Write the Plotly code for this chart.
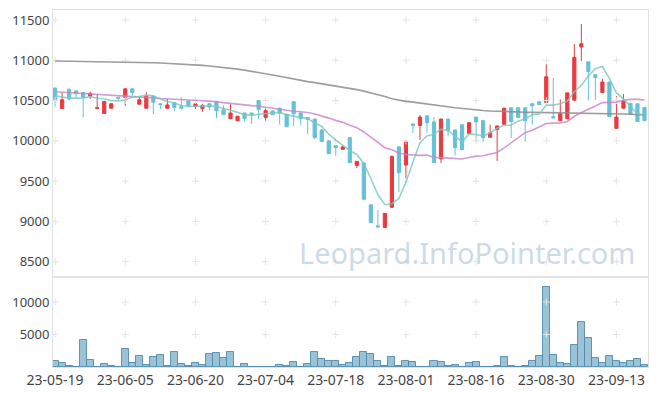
import plotly.graph_objects as go
from plotly.subplots import make_subplots

dates = ["23-05-19","23-05-22","23-05-23","23-05-24","23-05-25","23-05-26","23-05-30","23-05-31",
         "23-06-01","23-06-02","23-06-05","23-06-07","23-06-08","23-06-09","23-06-12","23-06-13",
         "23-06-14","23-06-15","23-06-16","23-06-19","23-06-20","23-06-21","23-06-22","23-06-23",
         "23-06-26","23-06-27","23-06-28","23-06-29","23-06-30","23-07-03","23-07-04","23-07-05",
         "23-07-06","23-07-07","23-07-10","23-07-11","23-07-12","23-07-13","23-07-14","23-07-17",
         "23-07-18","23-07-19","23-07-20","23-07-21","23-07-24","23-07-25","23-07-26","23-07-27",
         "23-07-28","23-07-31","23-08-01","23-08-02","23-08-03","23-08-04","23-08-07","23-08-08",
         "23-08-09","23-08-10","23-08-11","23-08-14","23-08-16","23-08-17","23-08-18","23-08-21",
         "23-08-22","23-08-23","23-08-24","23-08-25","23-08-28","23-08-29","23-08-30","23-08-31",
         "23-09-01","23-09-04","23-09-05","23-09-06","23-09-07","23-09-08","23-09-11","23-09-12",
         "23-09-13","23-09-14","23-09-15","23-09-18","23-09-19"]

opens = [10655,10400,10640,10620,10600,10555,10400,10340,10405,10540,
         10540,10645,10455,10405,10555,10460,10405,10475,10425,10495,
         10425,10400,10460,10490,10385,10275,10250,10345,10345,10500,
         10290,10370,10405,10330,10485,10345,10290,10270,10135,10000,
         9940,9895,10040,9695,9725,9205,8945,8925,9175,9925,
         9700,10210,10190,10310,10235,9775,10270,10135,10200,10090,
         10295,10250,10045,10140,10205,10410,10410,10410,10460,10485,
         10475,10300,10250,10275,10505,11165,10980,10820,10600,10730,
         10155,10405,10465,10460,10415]
highs = [10660,10600,10650,10625,10610,10610,10580,10495,10470,10545,
         10650,10650,10560,10605,10560,10465,10520,10480,10540,10500,
         10465,10455,10465,10495,10440,10455,10310,10350,10350,10505,
         10400,10380,10410,10335,10490,10350,10295,10275,10140,10005,
         9945,9930,10045,9750,9730,9210,9140,9100,9820,9930,
         10010,10215,10320,10315,10295,10275,10275,10140,10205,10235,
         10300,10255,10200,10185,10410,10415,10415,10415,10465,10490,
         10950,10780,10515,10595,11200,11450,10985,10825,10770,10735,
         10555,10580,10470,10465,10420]
lows = [10425,10395,10500,10540,10290,10520,10395,10335,10400,10505,
        10435,10560,10450,10400,10330,10395,10400,10370,10390,10425,
        10395,10360,10380,10280,10320,10270,10245,10240,10210,10270,
        10250,10320,10205,10170,10185,10200,10085,10020,9990,9835,
        9815,9890,9730,9660,9270,8980,8925,8920,9170,9365,
        9530,10095,10010,10095,9730,9725,10055,9820,9885,10085,
        9985,9990,10040,9750,10200,10035,10285,9990,10200,10445,
        10470,10280,10245,10270,10500,10990,10500,10510,10595,10300,
        10150,10400,10330,10240,10250]
closes = [10500,10510,10520,10585,10540,10590,10410,10490,10460,10530,
          10645,10600,10510,10555,10480,10450,10445,10415,10405,10430,
          10460,10440,10420,10375,10325,10345,10305,10275,10330,10390,
          10375,10325,10345,10175,10335,10275,10265,10040,9990,9840,
          9915,9925,9730,9745,9275,8985,8930,9100,9805,9605,
          9985,10190,10295,10225,9730,10270,10130,9915,9890,10225,
          10235,10040,10100,10185,10405,10240,10290,10250,10435,10450,
          10795,10285,10335,10595,11035,11205,10860,10785,10730,10300,
          10295,10495,10330,10240,10250]
volumes = [980,670,200,50,4170,1080,50,460,200,20,
           2830,670,1700,310,1545,1850,200,2320,460,200,
           670,360,2010,2160,1390,2320,50,460,10,10,
           50,50,310,150,820,50,510,2320,1240,950,
           930,310,620,1545,2320,2010,930,150,1545,150,
           930,770,20,20,930,770,150,310,10,620,
           770,20,20,150,1545,150,10,150,930,1700,
           12360,1850,620,460,3400,6950,4480,1390,620,1700,
           930,620,930,1240,310]
ma5 = [10560,10545,10530,10530,10531,10549,10529,10523,10498,10496,
       10507,10545,10549,10568,10558,10519,10488,10469,10439,10429,
       10431,10430,10431,10425,10404,10381,10354,10325,10316,10329,
       10335,10339,10353,10322,10311,10291,10279,10218,10181,10082,
       10010,9942,9880,9831,9718,9532,9333,9207,9219,9285,
       9485,9737,9976,10060,10085,10142,10130,10054,9987,10086,
       10079,10061,10098,10157,10193,10194,10244,10274,10324,10333,
       10444,10443,10460,10492,10609,10691,10806,10896,10923,10776,
       10594,10521,10430,10332,10322]
ma20 = [10610,10605,10600,10595,10590,10585,10578,10572,10566,10560,
        10555,10550,10545,10540,10533,10526,10520,10514,10508,10504,
        10502,10498,10493,10483,10472,10460,10454,10444,10437,10430,
        10417,10403,10395,10376,10368,10360,10351,10332,10311,10282,
        10254,10229,10194,10163,10110,10042,9973,9915,9888,9849,
        9830,9823,9820,9823,9793,9792,9786,9779,9774,9794,
        9810,9815,9834,9856,9912,9975,10043,10101,10132,10174,
        10215,10220,10222,10240,10305,10352,10389,10432,10474,10478,
        10481,10504,10515,10515,10507]
ma_long = [10991,10990,10990,10989,10988,10987,10986,
           10984,10982,10981,10979,10977,10975,10973,
           10970,10966,10962,10958,10953,10948,10943,
           10936,10928,10920,10911,10901,10890,10878,
           10865,10850,10835,10818,10801,10783,10764,
           10748,10735,10722,10709,10697,10684,10669,
           10653,10636,10617,10596,10573,10549,10523,
           10503,10490,10480,10470,10458,10446,10434,
           10422,10411,10401,10392,10384,10377,10371,
           10366,10362,10359,10357,10355,10353,10352,
           10351,10350,10349,10348,10347,10346,10345,
           10343,10341,10339,10336,10333,10329,10325,10321]

tick_labels = ["23-05-19","23-06-05","23-06-20","23-07-04","23-07-18",
               "23-08-01","23-08-16","23-08-30","23-09-13"]
price_ticks = [8500, 9000, 9500, 10000, 10500, 11000, 11500]
volume_ticks = [5000, 10000]

UP = "#ea3a3f"
DOWN = "#66c1d8"
GRID = "#e4e4e4"
AXIS = "#e2e2e2"
FONT = dict(family="Noto Sans", size=13, color="#444444")

fig = make_subplots(rows=2, cols=1, shared_xaxes=True)

# grid crosses
cx = [d for d in tick_labels for _ in price_ticks]
cy = [v for _ in tick_labels for v in price_ticks]
fig.add_trace(go.Scatter(x=cx, y=cy, mode="markers", hoverinfo="skip",
                         marker=dict(symbol="cross-thin", size=5, line=dict(width=1, color=GRID))),
              row=1, col=1)
vx = [d for d in tick_labels for _ in volume_ticks]
vy = [v for _ in tick_labels for v in volume_ticks]
fig.add_trace(go.Scatter(x=vx, y=vy, mode="markers", hoverinfo="skip",
                         marker=dict(symbol="cross-thin", size=5, line=dict(width=1, color=GRID))),
              row=2, col=1)

fig.add_trace(go.Candlestick(x=dates, open=opens, high=highs, low=lows, close=closes,
                             increasing=dict(line=dict(color=UP, width=1), fillcolor=UP),
                             decreasing=dict(line=dict(color=DOWN, width=1), fillcolor=DOWN),
                             whiskerwidth=0),
              row=1, col=1)

fig.add_trace(go.Scatter(x=dates, y=ma_long, mode="lines",
                         line=dict(color="rgba(140,140,140,0.85)", width=1.6)), row=1, col=1)
fig.add_trace(go.Scatter(x=dates, y=ma20, mode="lines",
                         line=dict(color="rgba(200,130,200,0.8)", width=1.6)), row=1, col=1)
fig.add_trace(go.Scatter(x=dates, y=ma5, mode="lines",
                         line=dict(color="rgba(120,200,190,0.8)", width=1.6)), row=1, col=1)

fig.add_trace(go.Bar(x=dates, y=volumes,
                     marker=dict(color="rgba(130,180,202,0.8)",
                                 line=dict(color="rgba(80,140,175,0.9)", width=1))),
              row=2, col=1)

# the page body adds an 8px offset at top/left, so the figure is sized/margined to compensate
fig.update_layout(
    width=649, height=388,
    margin=dict(l=45, r=9, t=2, b=29, autoexpand=False),
    paper_bgcolor="white", plot_bgcolor="white",
    showlegend=False,
    font=FONT,
    bargap=0, boxgap=0.35,
    annotations=[dict(text="Leopard.InfoPointer.com", xref="paper", yref="paper",
                      x=0.983, y=0.322, xanchor="right", yanchor="middle", showarrow=False,
                      font=dict(family="Noto Sans", size=29, color="rgba(170,195,215,0.6)"))],
)
xcommon = dict(type="category", categoryorder="array", categoryarray=dates,
               range=[-0.3, 84.5], showgrid=False, zeroline=False, automargin=False,
               showline=True, linecolor=AXIS, mirror=True, ticks="",
               tickmode="array", tickvals=tick_labels, ticktext=tick_labels)
fig.update_xaxes(**xcommon)
fig.update_xaxes(showticklabels=False, rangeslider=dict(visible=False), row=1, col=1)
fig.update_xaxes(showticklabels=True, tickfont=dict(size=14), row=2, col=1)
fig.update_yaxes(range=[8322, 11624], tickmode="array", tickvals=price_ticks,
                 ticktext=[str(v) for v in price_ticks], showgrid=False, zeroline=False,
                 automargin=False, showline=True, linecolor=AXIS, mirror=True, ticks="",
                 domain=[0.2549, 1.0], row=1, col=1)
fig.update_yaxes(range=[0, 13700], tickmode="array", tickvals=volume_ticks,
                 ticktext=[str(v) for v in volume_ticks], showgrid=False, zeroline=False,
                 automargin=False, showline=True, linecolor=AXIS, mirror=True, ticks="",
                 domain=[0.0, 0.2493], row=2, col=1)

fig.write_html("out.html")
